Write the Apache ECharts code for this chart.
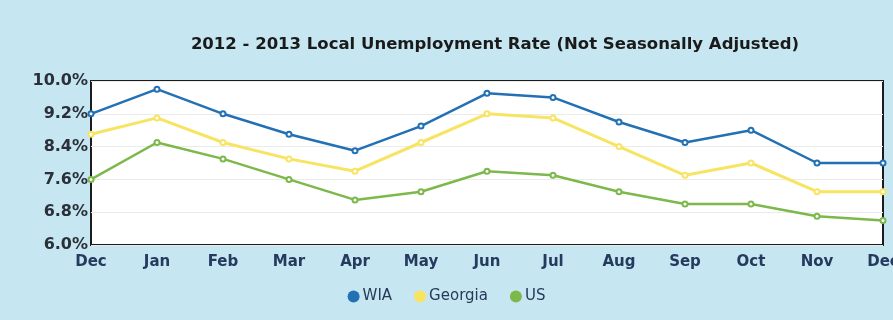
<!DOCTYPE html>
<html>
<head>
<meta charset="utf-8">
<script src="https://cdn.jsdelivr.net/npm/echarts@6/dist/echarts.min.js"></script>
<style>
html,body{margin:0;padding:0;background:#c6e7f1;}
#c{width:893px;height:320px;}
</style>
</head>
<body>
<div id="c"></div>
<script>
var months = ['Dec','Jan','Feb','Mar','Apr','May','Jun','Jul','Aug','Sep','Oct','Nov','Dec'];
var wia     = [9.2, 9.8, 9.2, 8.7, 8.3, 8.9, 9.7, 9.6, 9.0, 8.5, 8.8, 8.0, 8.0];
var georgia = [8.7, 9.1, 8.5, 8.1, 7.8, 8.5, 9.2, 9.1, 8.4, 7.7, 8.0, 7.3, 7.3];
var us      = [7.6, 8.5, 8.1, 7.6, 7.1, 7.3, 7.8, 7.7, 7.3, 7.0, 7.0, 6.7, 6.6];
var yTicks  = { min: 6.0, max: 10.0, step: 0.8 };

var chart = echarts.init(document.getElementById('c'));
function line(name, data, color, width) {
  return {
    name: name, type: 'line', data: data,
    symbol: 'emptyCircle', symbolSize: 5,
    lineStyle: { color: color, width: width },
    itemStyle: { color: color, borderWidth: 1.5 },
    emphasis: { disabled: true }
  };
}
chart.setOption({
  backgroundColor: '#c6e7f1',
  animation: false,
  title: {
    text: '2012 - 2013 Local Unemployment Rate (Not Seasonally Adjusted)',
    left: 490, top: 31, textAlign: 'center',
    textStyle: { fontFamily: 'DejaVu Sans', fontWeight: 'bold', fontSize: 16.5, color: '#1a1a1a' }
  },
  legend: {
    data: ['WIA', 'Georgia', 'US'],
    left: 'center', top: 284,
    icon: 'circle', itemWidth: 12, itemHeight: 12, itemGap: 22,
    textStyle: { fontFamily: 'DejaVu Sans', fontSize: 15, color: '#253a58', padding: [0, 0, 0, -2] }
  },
  grid: {
    left: 91, right: 10, top: 81, bottom: 75,
    outerBoundsMode: 'none', containLabel: false,
    show: true, backgroundColor: '#ffffff', borderColor: '#1c1c1c', borderWidth: 2
  },
  xAxis: {
    type: 'category', data: months, boundaryGap: false,
    axisLine: { show: false }, axisTick: { show: false },
    axisLabel: { margin: 10, fontFamily: 'DejaVu Sans', fontSize: 15, fontWeight: 'bold', color: '#243a5e' },
    splitLine: { show: false }
  },
  yAxis: {
    type: 'value', min: yTicks.min, max: yTicks.max, interval: yTicks.step,
    axisLine: { show: false }, axisTick: { show: false },
    axisLabel: {
      margin: 3, fontFamily: 'DejaVu Sans', fontSize: 16, fontWeight: 'bold', color: '#2a2f38',
      formatter: function (v) { return v.toFixed(1) + '%'; }
    },
    splitLine: { show: true, lineStyle: { color: '#ebebeb', width: 1 } }
  },
  series: [
    line('WIA', wia, '#2370b4', 2.5),
    line('Georgia', georgia, '#f7e463', 3),
    line('US', us, '#7cb84a', 2.5)
  ]
});
</script>
</body>
</html>
